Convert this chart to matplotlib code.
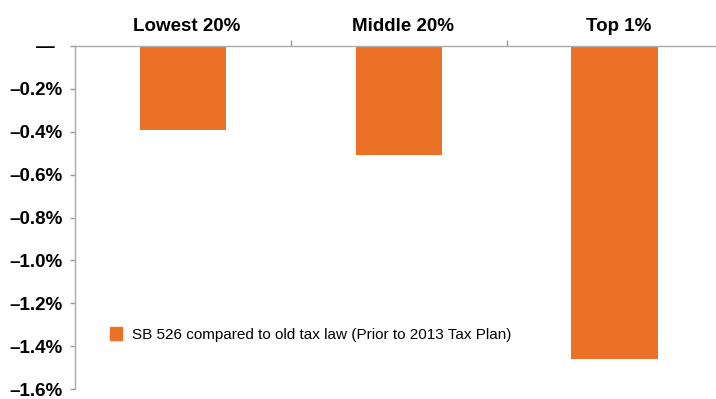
import matplotlib
matplotlib.use("Agg")
import matplotlib.pyplot as plt
import matplotlib.transforms as mtransforms
from matplotlib.patches import Patch

categories = ["Lowest 20%", "Middle 20%", "Top 1%"]
values = [-0.39, -0.51, -1.46]
series_name = "SB 526 compared to old tax law (Prior to 2013 Tax Plan)"
yticks = [0.0, -0.2, -0.4, -0.6, -0.8, -1.0, -1.2, -1.4, -1.6]
ytick_labels = ["\u2014", "\u20130.2%", "\u20130.4%", "\u20130.6%", "\u20130.8%",
                "\u20131.0%", "\u20131.2%", "\u20131.4%", "\u20131.6%"]

plt.rcParams['font.family'] = ['Liberation Sans', 'DejaVu Sans']
W, H = 716, 399
fig = plt.figure(figsize=(W / 100, H / 100), dpi=100)
ax = fig.add_axes([75 / W, 1 - 389 / H, (716 - 75) / W, (389 - 46) / H])

orange = "#EC7128"
x = list(range(len(categories)))
ax.bar(x, values, width=0.4, color=orange, zorder=2)

ax.set_ylim(-1.6, 0)
ax.set_xlim(-0.5, 2.47)

ax.set_yticks(yticks)
ax.set_yticklabels(ytick_labels, fontsize=13.5, fontweight='bold')
ax.tick_params(axis='y', length=3.5, color='#999999', width=1, pad=5.5)
ylbls = ax.get_yticklabels()
ylbls[0].set_transform(ylbls[0].get_transform() +
                       mtransforms.ScaledTranslation(-8 / 100, 0, fig.dpi_scale_trans))

ax.xaxis.set_ticks_position('top')
ax.set_xticks(x)
ax.set_xticklabels(categories, fontsize=13.5, fontweight='bold')
ax.tick_params(axis='x', which='major', length=0, pad=8)
ax.set_xticks([0.5, 1.5], minor=True)
ax.tick_params(axis='x', which='minor', length=4, color='#999999', width=1, direction='out', top=True, bottom=False)
offset = mtransforms.ScaledTranslation(4 / 100, 0, fig.dpi_scale_trans)
for lbl in ax.get_xticklabels():
    lbl.set_transform(lbl.get_transform() + offset)

for s in ['right', 'bottom']:
    ax.spines[s].set_visible(False)
ax.spines['left'].set_color('#aaaaaa')
ax.spines['top'].set_color('#aaaaaa')
ax.spines['left'].set_linewidth(1)
ax.spines['top'].set_linewidth(1)

leg = ax.legend(handles=[Patch(color=orange, label=series_name)],
                loc='center left', bbox_to_anchor=((104 - 75) / (716 - 75), 1 - (334.5 - 46) / (389 - 46)),
                frameon=False, fontsize=11, handlelength=0.8, handleheight=0.9, handletextpad=0.6,
                borderaxespad=0)

fig.savefig("out.png", dpi=100)
